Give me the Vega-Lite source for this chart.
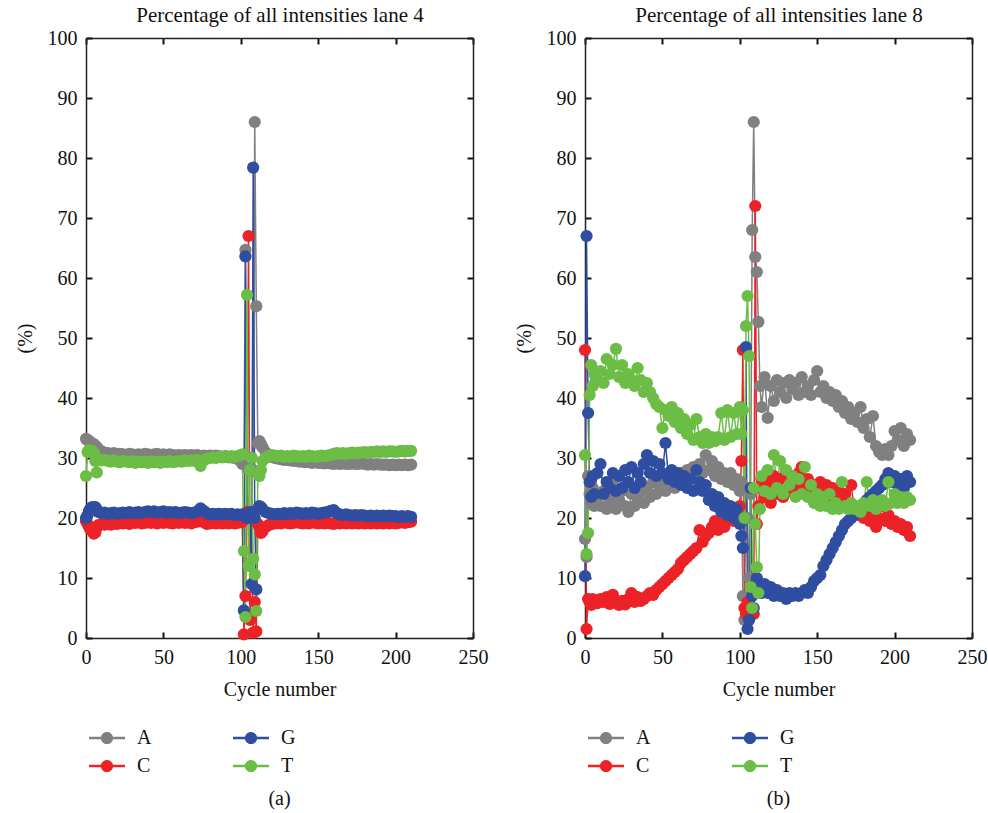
{
  "$schema": "https://vega.github.io/schema/vega-lite/v6.json",
  "padding": {"left": 15, "top": 4, "right": 5, "bottom": 5},
  "background": "white",
  "datasets": {
    "lane4": [
      {"c":0,"A":33.2,"C":19.5,"G":20.0,"T":27.0},
      {"c":1,"A":33.0,"C":19.0,"G":20.5,"T":31.0},
      {"c":2,"A":32.8,"C":18.5,"G":21.2,"T":31.3},
      {"c":3,"A":32.6,"C":18.0,"G":21.6,"T":31.0},
      {"c":4,"A":32.4,"C":18.3,"G":21.8,"T":31.2},
      {"c":5,"A":32.3,"C":17.4,"G":21.6,"T":30.8},
      {"c":6,"A":32.0,"C":17.6,"G":21.8,"T":29.5},
      {"c":7,"A":31.8,"C":18.4,"G":21.4,"T":27.6},
      {"c":8,"A":31.5,"C":18.8,"G":21.0,"T":29.8},
      {"c":10,"A":31.1,"C":19.0,"G":20.8,"T":29.6},
      {"c":12,"A":30.9,"C":18.9,"G":20.9,"T":29.7},
      {"c":14,"A":30.8,"C":19.0,"G":20.7,"T":29.5},
      {"c":16,"A":30.7,"C":18.9,"G":20.8,"T":29.4},
      {"c":18,"A":30.8,"C":19.1,"G":20.9,"T":29.6},
      {"c":20,"A":30.6,"C":19.0,"G":20.7,"T":29.4},
      {"c":22,"A":30.7,"C":19.2,"G":20.8,"T":29.3},
      {"c":24,"A":30.6,"C":19.1,"G":20.9,"T":29.5},
      {"c":26,"A":30.5,"C":19.2,"G":20.8,"T":29.4},
      {"c":28,"A":30.7,"C":19.0,"G":21.0,"T":29.3},
      {"c":30,"A":30.6,"C":19.3,"G":20.8,"T":29.5},
      {"c":32,"A":30.5,"C":19.2,"G":20.9,"T":29.2},
      {"c":34,"A":30.6,"C":19.3,"G":21.0,"T":29.4},
      {"c":36,"A":30.5,"C":19.1,"G":20.8,"T":29.3},
      {"c":38,"A":30.7,"C":19.2,"G":21.0,"T":29.4},
      {"c":40,"A":30.6,"C":19.3,"G":21.1,"T":29.2},
      {"c":42,"A":30.5,"C":19.2,"G":21.0,"T":29.4},
      {"c":44,"A":30.6,"C":19.3,"G":21.1,"T":29.3},
      {"c":46,"A":30.7,"C":19.1,"G":20.9,"T":29.4},
      {"c":48,"A":30.5,"C":19.3,"G":21.0,"T":29.2},
      {"c":50,"A":30.6,"C":19.2,"G":21.1,"T":29.4},
      {"c":52,"A":30.5,"C":19.3,"G":20.9,"T":29.3},
      {"c":54,"A":30.6,"C":19.2,"G":21.0,"T":29.5},
      {"c":56,"A":30.5,"C":19.1,"G":20.9,"T":29.3},
      {"c":58,"A":30.4,"C":19.3,"G":21.0,"T":29.4},
      {"c":60,"A":30.5,"C":19.2,"G":20.8,"T":29.5},
      {"c":62,"A":30.4,"C":19.3,"G":20.9,"T":29.4},
      {"c":64,"A":30.5,"C":19.2,"G":21.0,"T":29.6},
      {"c":66,"A":30.4,"C":19.3,"G":20.9,"T":29.5},
      {"c":68,"A":30.5,"C":19.1,"G":20.8,"T":29.6},
      {"c":70,"A":30.4,"C":19.3,"G":20.9,"T":29.5},
      {"c":72,"A":30.5,"C":19.4,"G":21.1,"T":29.7},
      {"c":74,"A":30.3,"C":19.5,"G":21.6,"T":28.7},
      {"c":76,"A":30.4,"C":19.3,"G":21.2,"T":29.6},
      {"c":78,"A":30.3,"C":19.0,"G":20.8,"T":29.9},
      {"c":80,"A":30.4,"C":19.1,"G":20.6,"T":30.0},
      {"c":82,"A":30.3,"C":19.2,"G":20.7,"T":30.1},
      {"c":84,"A":30.4,"C":19.1,"G":20.6,"T":30.0},
      {"c":86,"A":30.3,"C":19.2,"G":20.7,"T":30.2},
      {"c":88,"A":30.2,"C":19.1,"G":20.6,"T":30.1},
      {"c":90,"A":30.3,"C":19.2,"G":20.7,"T":30.2},
      {"c":92,"A":30.2,"C":19.1,"G":20.6,"T":30.1},
      {"c":94,"A":30.1,"C":19.2,"G":20.7,"T":30.3},
      {"c":96,"A":30.0,"C":19.1,"G":20.5,"T":30.2},
      {"c":98,"A":29.8,"C":19.2,"G":20.6,"T":30.3},
      {"c":100,"A":29.5,"C":19.3,"G":20.5,"T":30.5},
      {"c":101,"A":29.0,"C":19.4,"G":20.6,"T":30.6},
      {"c":102,"A":29.5,"C":0.6,"G":4.6,"T":14.5},
      {"c":103,"A":64.7,"C":7.0,"G":63.6,"T":3.5},
      {"c":104,"A":29.0,"C":21.0,"G":20.0,"T":57.2},
      {"c":105,"A":28.0,"C":67.0,"G":20.0,"T":12.0},
      {"c":106,"A":30.0,"C":3.0,"G":21.0,"T":28.0},
      {"c":107,"A":30.0,"C":20.0,"G":9.0,"T":30.0},
      {"c":108,"A":28.0,"C":0.9,"G":78.4,"T":13.2},
      {"c":109,"A":86.0,"C":6.0,"G":20.0,"T":10.6},
      {"c":110,"A":55.3,"C":1.1,"G":8.1,"T":4.5},
      {"c":111,"A":32.5,"C":19.0,"G":21.5,"T":27.5},
      {"c":112,"A":32.8,"C":18.5,"G":22.0,"T":27.0},
      {"c":113,"A":32.3,"C":17.5,"G":21.8,"T":28.0},
      {"c":114,"A":31.8,"C":17.8,"G":21.5,"T":29.5},
      {"c":116,"A":31.0,"C":18.5,"G":21.0,"T":30.0},
      {"c":118,"A":30.5,"C":18.8,"G":20.8,"T":30.3},
      {"c":120,"A":30.2,"C":19.0,"G":20.7,"T":30.5},
      {"c":122,"A":30.0,"C":19.1,"G":20.6,"T":30.4},
      {"c":124,"A":29.9,"C":19.2,"G":20.7,"T":30.3},
      {"c":126,"A":29.8,"C":19.1,"G":20.6,"T":30.4},
      {"c":128,"A":29.7,"C":19.3,"G":20.8,"T":30.2},
      {"c":130,"A":29.7,"C":19.2,"G":20.7,"T":30.3},
      {"c":132,"A":29.6,"C":19.1,"G":20.8,"T":30.2},
      {"c":134,"A":29.5,"C":19.2,"G":20.7,"T":30.4},
      {"c":136,"A":29.5,"C":19.3,"G":20.9,"T":30.3},
      {"c":138,"A":29.4,"C":19.2,"G":20.8,"T":30.2},
      {"c":140,"A":29.4,"C":19.1,"G":20.7,"T":30.3},
      {"c":142,"A":29.3,"C":19.2,"G":20.8,"T":30.2},
      {"c":144,"A":29.3,"C":19.1,"G":20.7,"T":30.4},
      {"c":146,"A":29.2,"C":19.3,"G":20.9,"T":30.3},
      {"c":148,"A":29.3,"C":19.2,"G":20.8,"T":30.2},
      {"c":150,"A":29.2,"C":19.1,"G":20.7,"T":30.3},
      {"c":152,"A":29.2,"C":19.2,"G":20.8,"T":30.4},
      {"c":154,"A":29.1,"C":19.1,"G":20.9,"T":30.3},
      {"c":156,"A":29.2,"C":19.2,"G":21.0,"T":30.4},
      {"c":158,"A":29.1,"C":19.1,"G":21.2,"T":30.5},
      {"c":160,"A":29.0,"C":19.0,"G":21.3,"T":30.7},
      {"c":162,"A":29.1,"C":19.2,"G":20.8,"T":30.8},
      {"c":164,"A":29.0,"C":19.1,"G":20.6,"T":30.7},
      {"c":166,"A":29.1,"C":19.2,"G":20.5,"T":30.8},
      {"c":168,"A":29.0,"C":19.1,"G":20.6,"T":30.7},
      {"c":170,"A":29.0,"C":19.2,"G":20.5,"T":30.8},
      {"c":172,"A":29.1,"C":19.1,"G":20.4,"T":30.9},
      {"c":174,"A":29.0,"C":19.2,"G":20.5,"T":30.8},
      {"c":176,"A":29.0,"C":19.1,"G":20.4,"T":30.9},
      {"c":178,"A":29.1,"C":19.2,"G":20.5,"T":30.9},
      {"c":180,"A":29.0,"C":19.1,"G":20.4,"T":31.0},
      {"c":182,"A":28.9,"C":19.2,"G":20.3,"T":30.9},
      {"c":184,"A":29.0,"C":19.1,"G":20.4,"T":31.0},
      {"c":186,"A":28.9,"C":19.2,"G":20.3,"T":31.0},
      {"c":188,"A":29.0,"C":19.1,"G":20.4,"T":31.1},
      {"c":190,"A":28.9,"C":19.2,"G":20.3,"T":31.0},
      {"c":192,"A":28.9,"C":19.1,"G":20.4,"T":31.1},
      {"c":194,"A":28.9,"C":19.2,"G":20.3,"T":31.0},
      {"c":196,"A":28.8,"C":19.1,"G":20.4,"T":31.1},
      {"c":198,"A":28.9,"C":19.2,"G":20.3,"T":31.1},
      {"c":200,"A":28.8,"C":19.1,"G":20.3,"T":31.0},
      {"c":202,"A":28.9,"C":19.2,"G":20.2,"T":31.1},
      {"c":204,"A":28.8,"C":19.3,"G":20.3,"T":31.2},
      {"c":206,"A":28.9,"C":19.2,"G":20.2,"T":31.1},
      {"c":208,"A":28.8,"C":19.3,"G":20.3,"T":31.2},
      {"c":210,"A":28.9,"C":19.4,"G":20.2,"T":31.2}
    ],
    "lane8": [
      {"c":0,"A":16.5,"C":48.0,"G":10.3,"T":30.5},
      {"c":1,"A":13.5,"C":1.5,"G":67.0,"T":14.0},
      {"c":2,"A":27.0,"C":6.5,"G":37.5,"T":17.5},
      {"c":3,"A":24.0,"C":6.0,"G":26.0,"T":40.5},
      {"c":4,"A":22.5,"C":5.5,"G":23.5,"T":45.5},
      {"c":5,"A":25.0,"C":6.5,"G":27.0,"T":42.0},
      {"c":6,"A":22.0,"C":6.0,"G":24.0,"T":44.0},
      {"c":8,"A":23.5,"C":5.8,"G":27.5,"T":43.0},
      {"c":10,"A":22.0,"C":6.5,"G":29.0,"T":44.5},
      {"c":12,"A":24.5,"C":6.0,"G":24.0,"T":42.5},
      {"c":14,"A":21.5,"C":6.8,"G":26.0,"T":46.5},
      {"c":16,"A":23.0,"C":5.7,"G":25.0,"T":44.0},
      {"c":18,"A":25.5,"C":7.2,"G":27.5,"T":45.5},
      {"c":20,"A":21.5,"C":6.0,"G":24.5,"T":48.2},
      {"c":22,"A":23.0,"C":5.5,"G":27.0,"T":43.5},
      {"c":24,"A":24.5,"C":6.2,"G":25.0,"T":45.5},
      {"c":26,"A":22.0,"C":5.6,"G":28.0,"T":42.5},
      {"c":28,"A":21.0,"C":6.5,"G":26.0,"T":44.0},
      {"c":30,"A":24.0,"C":7.5,"G":28.5,"T":43.0},
      {"c":32,"A":22.0,"C":6.0,"G":25.0,"T":42.0},
      {"c":34,"A":23.5,"C":6.8,"G":27.5,"T":45.0},
      {"c":36,"A":24.5,"C":6.2,"G":26.0,"T":43.0},
      {"c":38,"A":22.5,"C":6.5,"G":29.0,"T":41.0},
      {"c":40,"A":25.0,"C":7.0,"G":30.5,"T":42.5},
      {"c":42,"A":23.5,"C":7.5,"G":27.5,"T":41.0},
      {"c":44,"A":26.0,"C":7.2,"G":29.5,"T":40.0},
      {"c":46,"A":24.0,"C":8.0,"G":27.0,"T":39.0},
      {"c":48,"A":25.5,"C":8.5,"G":29.0,"T":38.5},
      {"c":50,"A":26.5,"C":9.0,"G":27.5,"T":35.0},
      {"c":52,"A":24.5,"C":9.5,"G":32.5,"T":38.0},
      {"c":54,"A":25.5,"C":10.0,"G":26.5,"T":37.0},
      {"c":56,"A":27.0,"C":10.5,"G":28.0,"T":38.5},
      {"c":58,"A":25.0,"C":11.0,"G":26.0,"T":36.0},
      {"c":60,"A":26.5,"C":11.5,"G":27.5,"T":37.5},
      {"c":62,"A":27.5,"C":12.5,"G":25.5,"T":35.0},
      {"c":64,"A":26.0,"C":13.0,"G":27.0,"T":36.5},
      {"c":66,"A":28.0,"C":13.5,"G":25.0,"T":34.0},
      {"c":68,"A":27.0,"C":14.0,"G":26.5,"T":35.5},
      {"c":70,"A":28.5,"C":14.5,"G":24.5,"T":33.0},
      {"c":72,"A":26.5,"C":15.0,"G":28.0,"T":36.5},
      {"c":74,"A":29.0,"C":18.0,"G":26.0,"T":33.5},
      {"c":76,"A":27.5,"C":16.0,"G":24.5,"T":32.5},
      {"c":78,"A":30.5,"C":17.0,"G":25.5,"T":34.0},
      {"c":80,"A":28.0,"C":17.5,"G":23.0,"T":32.5},
      {"c":82,"A":29.5,"C":18.5,"G":24.0,"T":33.5},
      {"c":84,"A":27.0,"C":19.5,"G":22.0,"T":32.8},
      {"c":86,"A":28.5,"C":18.0,"G":23.5,"T":33.5},
      {"c":88,"A":26.5,"C":19.0,"G":21.0,"T":37.5},
      {"c":90,"A":27.5,"C":18.5,"G":22.5,"T":33.0},
      {"c":92,"A":26.0,"C":19.5,"G":20.5,"T":38.0},
      {"c":94,"A":27.5,"C":20.0,"G":22.0,"T":33.5},
      {"c":96,"A":25.5,"C":19.5,"G":20.0,"T":37.5},
      {"c":98,"A":26.5,"C":21.0,"G":21.5,"T":34.0},
      {"c":100,"A":24.5,"C":22.0,"G":19.0,"T":38.5},
      {"c":101,"A":26.0,"C":29.5,"G":17.0,"T":34.0},
      {"c":102,"A":7.0,"C":48.0,"G":15.0,"T":38.0},
      {"c":103,"A":3.0,"C":5.0,"G":20.0,"T":20.0},
      {"c":104,"A":25.0,"C":4.0,"G":48.5,"T":52.0},
      {"c":105,"A":20.0,"C":6.0,"G":1.5,"T":57.0},
      {"c":106,"A":10.0,"C":4.5,"G":3.0,"T":47.0},
      {"c":107,"A":24.0,"C":5.0,"G":25.0,"T":8.5},
      {"c":108,"A":68.0,"C":4.0,"G":7.0,"T":5.0},
      {"c":109,"A":86.0,"C":4.0,"G":5.0,"T":25.0},
      {"c":110,"A":63.5,"C":72.0,"G":9.0,"T":19.0},
      {"c":111,"A":61.0,"C":19.0,"G":10.0,"T":11.8},
      {"c":112,"A":52.7,"C":22.0,"G":8.0,"T":7.5},
      {"c":113,"A":42.0,"C":25.0,"G":9.0,"T":21.5},
      {"c":114,"A":38.5,"C":26.5,"G":7.5,"T":27.0},
      {"c":116,"A":43.5,"C":23.5,"G":9.0,"T":24.5},
      {"c":118,"A":36.7,"C":26.0,"G":7.5,"T":28.0},
      {"c":120,"A":42.0,"C":22.5,"G":8.5,"T":24.0},
      {"c":122,"A":39.5,"C":27.0,"G":7.0,"T":30.5},
      {"c":124,"A":43.0,"C":24.0,"G":8.0,"T":25.0},
      {"c":126,"A":41.0,"C":26.5,"G":7.0,"T":29.5},
      {"c":128,"A":42.5,"C":23.5,"G":7.5,"T":24.0},
      {"c":130,"A":40.0,"C":27.5,"G":6.5,"T":28.0},
      {"c":132,"A":43.0,"C":24.5,"G":7.5,"T":25.5},
      {"c":134,"A":41.5,"C":26.0,"G":7.0,"T":27.0},
      {"c":136,"A":42.5,"C":25.0,"G":7.5,"T":23.5},
      {"c":138,"A":40.5,"C":27.5,"G":7.0,"T":26.5},
      {"c":140,"A":43.5,"C":28.5,"G":7.5,"T":24.0},
      {"c":142,"A":41.0,"C":25.5,"G":8.0,"T":28.5},
      {"c":144,"A":42.0,"C":26.5,"G":7.5,"T":23.5},
      {"c":146,"A":40.5,"C":24.0,"G":8.5,"T":25.5},
      {"c":148,"A":43.0,"C":25.5,"G":9.5,"T":22.5},
      {"c":150,"A":44.5,"C":24.0,"G":10.0,"T":24.0},
      {"c":152,"A":41.0,"C":26.0,"G":10.5,"T":22.0},
      {"c":154,"A":42.0,"C":24.5,"G":12.0,"T":23.5},
      {"c":156,"A":40.0,"C":25.5,"G":13.0,"T":22.0},
      {"c":158,"A":41.0,"C":23.5,"G":14.0,"T":24.0},
      {"c":160,"A":39.5,"C":25.0,"G":15.0,"T":21.5},
      {"c":162,"A":40.5,"C":23.0,"G":16.0,"T":22.5},
      {"c":164,"A":38.5,"C":24.5,"G":17.0,"T":21.5},
      {"c":166,"A":39.5,"C":22.5,"G":18.0,"T":26.0},
      {"c":168,"A":37.5,"C":24.0,"G":19.0,"T":22.0},
      {"c":170,"A":38.5,"C":22.0,"G":19.5,"T":21.5},
      {"c":172,"A":36.5,"C":25.5,"G":20.0,"T":22.5},
      {"c":174,"A":37.5,"C":21.0,"G":20.5,"T":21.5},
      {"c":176,"A":36.0,"C":20.5,"G":21.0,"T":22.0},
      {"c":178,"A":38.5,"C":21.5,"G":21.5,"T":21.0},
      {"c":180,"A":35.0,"C":20.0,"G":22.0,"T":22.5},
      {"c":182,"A":36.5,"C":21.5,"G":23.0,"T":26.0},
      {"c":184,"A":33.5,"C":19.5,"G":23.5,"T":22.0},
      {"c":186,"A":37.0,"C":21.0,"G":24.0,"T":23.0},
      {"c":188,"A":32.0,"C":18.5,"G":24.5,"T":21.5},
      {"c":190,"A":31.0,"C":20.0,"G":25.0,"T":22.5},
      {"c":192,"A":30.5,"C":22.0,"G":25.5,"T":23.0},
      {"c":194,"A":31.5,"C":19.5,"G":26.5,"T":22.0},
      {"c":196,"A":30.5,"C":20.5,"G":27.5,"T":26.0},
      {"c":198,"A":32.0,"C":19.0,"G":26.0,"T":22.5},
      {"c":200,"A":34.5,"C":19.5,"G":27.0,"T":24.0},
      {"c":202,"A":33.0,"C":18.5,"G":25.5,"T":22.5},
      {"c":204,"A":35.0,"C":19.0,"G":26.5,"T":23.5},
      {"c":206,"A":32.0,"C":18.0,"G":25.0,"T":22.5},
      {"c":208,"A":34.0,"C":18.5,"G":27.0,"T":23.5},
      {"c":210,"A":33.0,"C":17.0,"G":26.0,"T":23.0}
    ]
  },
  "hconcat": [
    {
      "width": 387,
      "height": 600,
      "data": {"name": "lane4"},
      "transform": [{"fold": ["A", "C", "G", "T"], "as": ["base", "pct"]}],
      "title": {"text": "(a)", "orient": "bottom", "frame": "group", "anchor": "middle", "offset": 13},
      "layer": [
        {
          "mark": {"type": "line", "strokeWidth": 1.5},
          "encoding": {
            "x": {"field": "c", "type": "quantitative", "scale": {"domain": [0, 250]}, "axis": {"orient": "bottom", "title": "Cycle number", "values": [0, 50, 100, 150, 200, 250], "labelFlush": false}},
            "y": {"field": "pct", "type": "quantitative", "scale": {"domain": [0, 100]}, "axis": {"orient": "left", "title": "(%)", "values": [0, 10, 20, 30, 40, 50, 60, 70, 80, 90, 100]}},
            "color": {"field": "base", "type": "nominal", "scale": {"domain": ["A", "G", "C", "T"], "range": ["#808080", "#2f4ea1", "#ec2227", "#6cbd45"]},
              "legend": {"orient": "none", "legendX": 3, "legendY": 682, "title": null, "columns": 2, "direction": "horizontal"}}
          }
        },
        {
          "mark": {"type": "point", "filled": true, "size": 150, "opacity": 1},
          "encoding": {
            "x": {"field": "c", "type": "quantitative", "scale": {"domain": [0, 250]}, "axis": {"orient": "top", "title": "Percentage of all intensities lane 4", "titleFontSize": 21, "labels": false, "values": [0, 50, 100, 150, 200, 250], "titlePadding": 12}},
            "y": {"field": "pct", "type": "quantitative", "scale": {"domain": [0, 100]}, "axis": {"orient": "right", "title": null, "labels": false, "values": [0, 10, 20, 30, 40, 50, 60, 70, 80, 90, 100]}},
            "order": {"field": "base"},
            "color": {"field": "base", "type": "nominal", "scale": {"domain": ["A", "G", "C", "T"], "range": ["#808080", "#2f4ea1", "#ec2227", "#6cbd45"]},
              "legend": {"orient": "none", "legendX": 3, "legendY": 682, "title": null, "columns": 2, "direction": "horizontal"}}
          }
        }
      ]
    },
    {
      "width": 387,
      "height": 600,
      "data": {"name": "lane8"},
      "transform": [{"fold": ["A", "C", "G", "T"], "as": ["base", "pct"]}],
      "title": {"text": "(b)", "orient": "bottom", "frame": "group", "anchor": "middle", "offset": 13},
      "layer": [
        {
          "mark": {"type": "line", "strokeWidth": 1.5},
          "encoding": {
            "x": {"field": "c", "type": "quantitative", "scale": {"domain": [0, 250]}, "axis": {"orient": "bottom", "title": "Cycle number", "values": [0, 50, 100, 150, 200, 250], "labelFlush": false}},
            "y": {"field": "pct", "type": "quantitative", "scale": {"domain": [0, 100]}, "axis": {"orient": "left", "title": "(%)", "values": [0, 10, 20, 30, 40, 50, 60, 70, 80, 90, 100]}},
            "color": {"field": "base", "type": "nominal", "scale": {"domain": ["A", "G", "C", "T"], "range": ["#808080", "#2f4ea1", "#ec2227", "#6cbd45"]},
              "legend": {"orient": "none", "legendX": 3, "legendY": 682, "title": null, "columns": 2, "direction": "horizontal"}}
          }
        },
        {
          "mark": {"type": "point", "filled": true, "size": 150, "opacity": 1},
          "encoding": {
            "x": {"field": "c", "type": "quantitative", "scale": {"domain": [0, 250]}, "axis": {"orient": "top", "title": "Percentage of all intensities lane 8", "titleFontSize": 21, "labels": false, "values": [0, 50, 100, 150, 200, 250], "titlePadding": 12}},
            "y": {"field": "pct", "type": "quantitative", "scale": {"domain": [0, 100]}, "axis": {"orient": "right", "title": null, "labels": false, "values": [0, 10, 20, 30, 40, 50, 60, 70, 80, 90, 100]}},
            "order": {"field": "base"},
            "color": {"field": "base", "type": "nominal", "scale": {"domain": ["A", "G", "C", "T"], "range": ["#808080", "#2f4ea1", "#ec2227", "#6cbd45"]},
              "legend": {"orient": "none", "legendX": 3, "legendY": 682, "title": null, "columns": 2, "direction": "horizontal"}}
          }
        }
      ]
    }
  ],
  "spacing": 26,
  "resolve": {"legend": {"color": "independent"}},
  "config": {
    "font": "Liberation Serif",
    "view": {"stroke": null},
    "axis": {
      "labelFont": "Liberation Serif",
      "titleFont": "Liberation Serif",
      "labelFontSize": 20,
      "titleFontSize": 20,
      "titleFontWeight": "normal",
      "labelColor": "#111111",
      "titleColor": "#111111",
      "domainColor": "#222222",
      "domainWidth": 1.5,
      "tickColor": "#111111",
      "tickWidth": 2,
      "tickSize": -6,
      "labelPadding": 15,
      "titlePadding": 12,
      "grid": false
    },
    "title": {"font": "Liberation Serif", "fontSize": 20, "fontWeight": "normal", "color": "#111111"},
    "legend": {
      "labelFont": "Liberation Serif",
      "labelFontSize": 20,
      "labelColor": "#111111",
      "symbolType": "M-1,-0.075H1V0.075H-1Z M0.34,0A0.34,0.34,0,1,1,-0.34,0A0.34,0.34,0,1,1,0.34,0Z",
      "symbolSize": 1296,
      "symbolStrokeWidth": 0,
      "labelOffset": 12,
      "columnPadding": 81,
      "rowPadding": -12,
      "padding": 0
    }
  }
}
